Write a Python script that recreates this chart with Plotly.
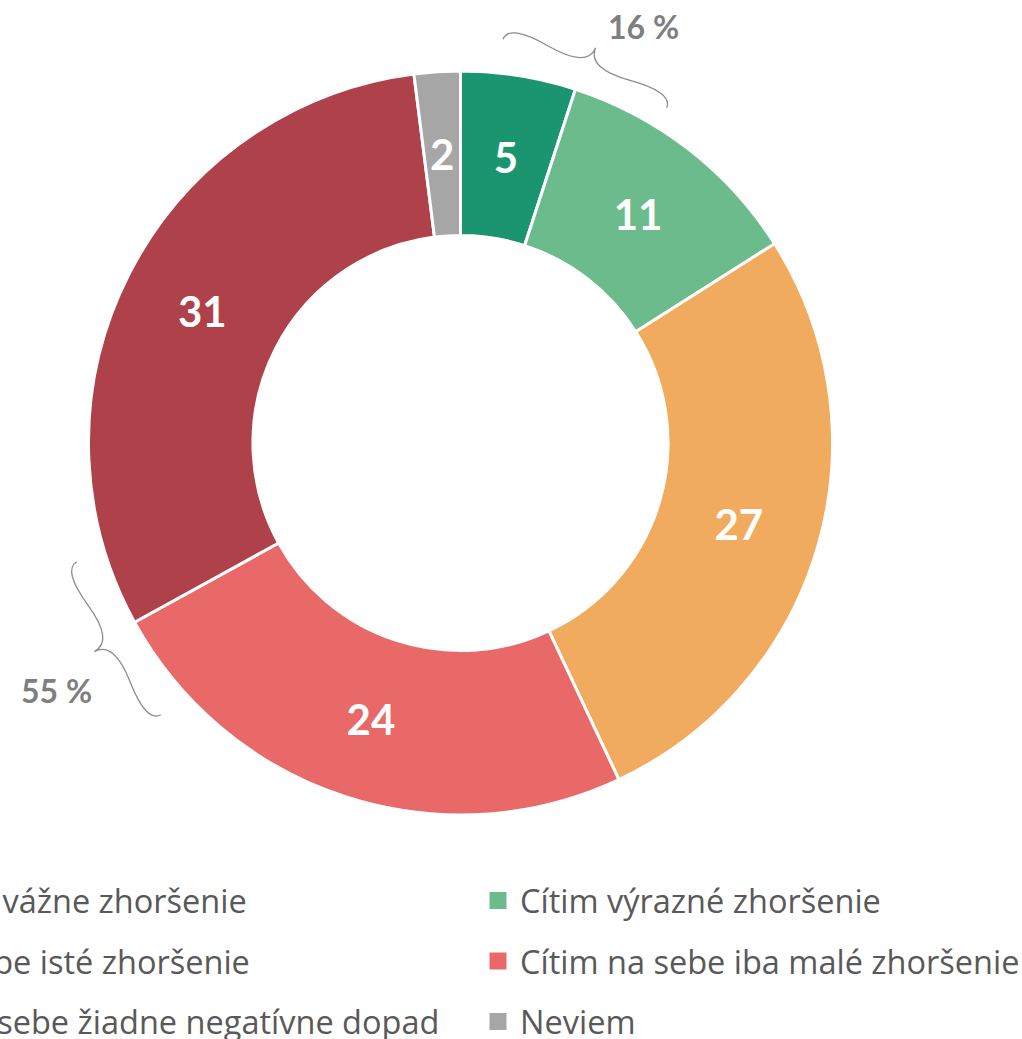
import math
import plotly.graph_objects as go

# ---- data ----
labels = [
    "Cítim veľmi vážne zhoršenie",
    "Cítim výrazné zhoršenie",
    "Cítim na sebe isté zhoršenie",
    "Cítim na sebe iba malé zhoršenie",
    "Necítim na sebe žiadne negatívne dopad",
    "Neviem",
]
values = [5, 11, 27, 24, 31, 2]
colors = ["#1B9570", "#6CBB8C", "#F1AB5E", "#E96868", "#AE4149", "#A6A6A6"]
group_labels = ["16 %", "55 %"]

# ---- geometry (pixels) ----
W, H = 1022, 1039
cx, cy, R = 460.5, 443.0, 372.0
HOLE = 0.558
R_TXT = 290.0          # radius at which the small-slice labels sit
TXT_HOLE = 0.9         # thin helper ring -> label centred on its mid radius
R_TXT_OUT = 2 * R_TXT / (1 + TXT_HOLE)
SMALL = 10             # slices below this get their label from the helper ring


def px(x):
    return x / W


def py(y):
    return 1 - y / H


def dom(r):
    return dict(x=[px(cx - r), px(cx + r)], y=[py(cy + r), py(cy - r)])


label_font = dict(family="Lato", size=42, color="white", weight="bold")

fig = go.Figure()
fig.add_trace(
    go.Pie(
        labels=labels,
        values=values,
        sort=False,
        direction="clockwise",
        rotation=0,
        hole=HOLE,
        marker=dict(colors=colors, line=dict(color="white", width=3)),
        text=[str(v) if v >= SMALL else "" for v in values],
        textinfo="text",
        textposition="inside",
        insidetextorientation="horizontal",
        textfont=label_font,
        domain=dom(R),
        showlegend=False,
        hoverinfo="label+value",
    )
)
# transparent thin ring that only carries the labels of the narrow slices
fig.add_trace(
    go.Pie(
        labels=labels,
        values=values,
        sort=False,
        direction="clockwise",
        rotation=0,
        hole=TXT_HOLE,
        marker=dict(colors=["rgba(0,0,0,0)"] * len(values), line=dict(width=0)),
        text=[str(v) if v < SMALL else "" for v in values],
        textinfo="text",
        textposition="inside",
        insidetextorientation="horizontal",
        textfont=label_font,
        domain=dom(R_TXT_OUT),
        showlegend=False,
        hoverinfo="skip",
    )
)


def polar(angle_deg, r):
    a = math.radians(angle_deg)
    return cx + r * math.sin(a), cy - r * math.cos(a)


def brace_path(a0, r0, a1, r1, w=28.0, q=0.6):
    x1, y1 = polar(a0, r0)
    x2, y2 = polar(a1, r1)
    dx, dy = x2 - x1, y2 - y1
    L = math.hypot(dx, dy)
    tx, ty = dx / L, dy / L
    nx, ny = -ty, tx
    mx, my = (x1 + x2) / 2, (y1 + y2) / 2
    if (mx - cx) * nx + (my - cy) * ny < 0:
        nx, ny = -nx, -ny

    def P(u, v):
        return f"{px(x1 + u * tx + v * nx):.5f},{py(y1 + u * ty + v * ny):.5f}"

    return (
        f"M{P(0, 0)} Q{P(0, q * w)} {P(L * 0.25, (1 - q) * w)} T{P(L * 0.5, w)} "
        f"M{P(L, 0)} Q{P(L, q * w)} {P(L * 0.75, (1 - q) * w)} T{P(L * 0.5, w)}"
    )


braces = [(6.0, 406, 31.6, 393.5), (252.8, 401.5, 227.8, 404.5)]
shapes = []
for b in braces:
    shapes.append(
        dict(type="path", xref="paper", yref="paper", path=brace_path(*b),
             line=dict(color="#8C8C8C", width=1.3))
    )

annotations = []
label_pos = [(643, 26), (56, 690)]
for t, (x, y) in zip(group_labels, label_pos):
    annotations.append(
        dict(text=t, x=px(x), y=py(y), xref="paper", yref="paper", showarrow=False,
             xanchor="center", yanchor="middle",
             font=dict(family="Lato", size=32, color="#7F7F7F", weight="bold"))
    )

# ---- manual legend (two columns, row-major, left column partly off-page) ----
row_y = [900.5, 961, 1021.5]
col_text_x = [-176, 518]
sq = 17
for i, (lab, col) in enumerate(zip(labels, colors)):
    r, c = divmod(i, 2)
    yc = row_y[r]
    xt = col_text_x[c]
    xs = xt - 20
    shapes.append(
        dict(type="rect", xref="paper", yref="paper",
             x0=px(xs - sq / 2), x1=px(xs + sq / 2), y0=py(yc + sq / 2), y1=py(yc - sq / 2),
             fillcolor=col, line=dict(width=0))
    )
    annotations.append(
        dict(text=lab, x=px(xt), y=py(yc), xref="paper", yref="paper", showarrow=False,
             xanchor="left", yanchor="middle",
             font=dict(family="Open Sans", size=32.5, color="#595959"))
    )

fig.update_layout(
    width=W,
    height=H,
    margin=dict(l=0, r=0, t=0, b=0, autoexpand=False),
    paper_bgcolor="white",
    plot_bgcolor="white",
    uniformtext=dict(minsize=42, mode="show"),
    shapes=shapes,
    annotations=annotations,
)

fig.write_html(
    "out.html",
    config={"displayModeBar": False},
    post_script="document.body.style.margin='0';document.body.style.overflow='hidden';",
)
